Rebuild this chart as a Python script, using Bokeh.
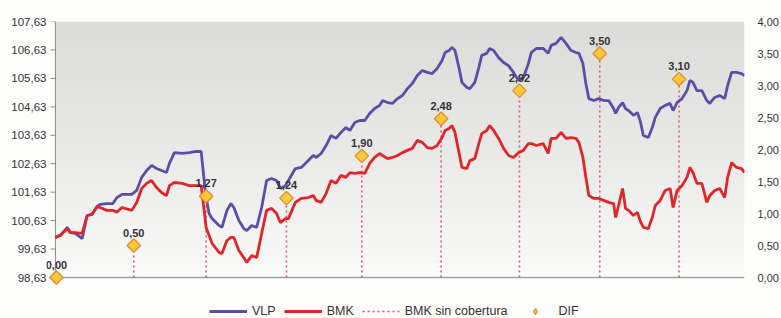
import numpy as np
from bokeh.plotting import figure
from bokeh.models import (Range1d, LinearAxis, FixedTicker, CustomJSTickFormatter,
                          Legend, LegendItem, ColumnDataSource)
from bokeh.core.properties import value
from bokeh.embed import file_html
from bokeh.resources import INLINE

# ---------------- data ----------------
t = [0, 5, 12, 15, 20, 27, 32, 37, 42, 45,
     52, 58, 62, 67, 77, 82, 87, 92, 97, 102,
     107, 112, 115, 120, 128, 135, 142, 147, 150, 152,
     155, 158, 165, 168, 173, 177, 180, 185, 190, 193,
     198, 203, 208, 213, 218, 223, 227, 232, 235, 242,
     248, 255, 260, 263, 268, 273, 278, 283, 288, 293,
     297, 302, 307, 312, 317, 322, 327, 330, 335, 340,
     345, 350, 355, 360, 365, 370, 375, 380, 385, 390,
     393, 397, 400, 403, 407, 410, 415, 418, 423, 427,
     430, 435, 438, 442, 447, 452, 457, 462, 467, 472,
     477, 480, 485, 492, 497, 500, 505, 510, 515, 520,
     525, 528, 532, 535, 538, 543, 548, 553, 558, 563,
     565, 568, 572, 575, 578, 583, 587, 590, 593, 598,
     602, 605, 610, 615, 620, 623, 627, 632, 637, 640,
     643, 647, 652, 657, 660, 665, 670, 675, 678, 682,
     687, 692, 695]

vlp = [100.04, 100.11, 100.39, 100.21, 100.18, 100.00, 100.81, 100.85, 101.13, 101.20,
       101.23, 101.23, 101.44, 101.55, 101.55, 101.69, 102.15, 102.39, 102.57, 102.46,
       102.39, 102.32, 102.64, 103.02, 102.99, 103.02, 103.06, 103.06, 102.04, 101.44,
       100.88, 100.70, 100.46, 100.39, 100.99, 101.23, 101.09, 100.63, 100.35, 100.28,
       100.46, 100.39, 101.09, 102.04, 102.11, 102.04, 101.76, 101.86, 102.04, 102.46,
       102.50, 102.74, 102.92, 102.85, 102.99, 103.27, 103.62, 103.52, 103.73, 103.90,
       103.80, 104.08, 104.15, 104.15, 104.40, 104.57, 104.68, 104.85, 104.78, 104.75,
       104.92, 105.03, 105.27, 105.45, 105.73, 105.91, 105.84, 105.80, 105.98, 106.26,
       106.54, 106.61, 106.72, 106.61, 106.01, 105.49, 105.31, 105.27, 105.49, 106.01,
       106.44, 106.51, 106.68, 106.61, 106.36, 106.19, 106.08, 105.84, 105.56, 105.66,
       106.15, 106.54, 106.68, 106.68, 106.51, 106.79, 106.86, 107.07, 106.86, 106.61,
       106.54, 106.51, 106.15, 105.45, 104.92, 104.85, 104.92, 104.85, 104.85, 104.57,
       104.40, 104.61, 104.78, 104.57, 104.50, 104.33, 104.43, 104.11, 103.62, 103.55,
       103.90, 104.26, 104.57, 104.68, 104.75, 104.50, 104.78, 104.92, 105.20, 105.56,
       105.49, 105.20, 105.20, 104.85, 104.75, 104.96, 105.03, 104.92, 105.38, 105.84,
       105.84, 105.80, 105.73]

bmk = [100.04, 100.11, 100.35, 100.21, 100.21, 100.18, 100.81, 100.85, 101.13, 101.09,
       100.99, 100.99, 100.92, 101.09, 100.99, 101.27, 101.76, 101.94, 102.04, 101.79,
       101.62, 101.51, 101.86, 101.97, 101.94, 101.86, 101.86, 101.86, 100.99, 100.39,
       100.11, 99.83, 99.51, 99.47, 99.93, 100.04, 100.04, 99.58, 99.33, 99.16,
       99.40, 99.33, 100.18, 100.99, 101.06, 100.88, 100.56, 100.70, 100.70, 101.27,
       101.41, 101.44, 101.51, 101.34, 101.27, 101.58, 102.04, 101.94, 102.22, 102.15,
       102.32, 102.29, 102.32, 102.29, 102.64, 102.85, 102.99, 102.92, 102.81, 102.85,
       102.92, 103.02, 103.10, 103.17, 103.45, 103.38, 103.20, 103.17, 103.27, 103.55,
       103.80, 103.87, 103.97, 103.73, 103.02, 102.50, 102.46, 102.74, 102.81, 103.34,
       103.69, 103.80, 103.97, 103.80, 103.52, 103.17, 102.92, 102.85, 103.02, 103.10,
       103.34, 103.34, 103.27, 103.34, 102.99, 103.52, 103.52, 103.73, 103.52, 103.55,
       103.52, 103.38, 102.85, 102.15, 101.51, 101.41, 101.41, 101.34, 101.27, 101.23,
       100.74, 101.16, 101.76, 101.06, 100.99, 100.81, 100.92, 100.60, 100.39, 100.35,
       100.74, 101.16, 101.34, 101.69, 101.76, 101.09, 101.69, 101.86, 102.15, 102.50,
       102.32, 101.94, 101.94, 101.27, 101.51, 101.69, 101.76, 101.44, 102.15, 102.67,
       102.50, 102.46, 102.32]

dif_t = [1, 79, 152, 233, 309, 389, 468, 549, 629]
dif = [0.00, 0.50, 1.27, 1.24, 1.90, 2.48, 2.92, 3.50, 3.10]
dif_labels = ["0,00", "0,50", "1,27", "1,24", "1,90", "2,48", "2,92", "3,50", "3,10"]

left_ticks = [98.63, 99.63, 100.63, 101.63, 102.63, 103.63, 104.63, 105.63, 106.63, 107.63]
right_ticks = [0.0, 0.5, 1.0, 1.5, 2.0, 2.5, 3.0, 3.5, 4.0]

# ---------------- style ----------------
FONT = "Liberation Sans"
PURPLE = "#5a4fa6"
RED = "#e0262b"
PINK = "#dc5a6e"
WHITE = "#fdfdfc"
GOLD = "#f9cb3a"
ORANGE = "#e58a2a"

T0, T1 = 0, 695            # span of the time axis
L0, L1 = 98.63, 107.63     # left (index) scale
R0, R1 = 0.0, 4.0          # right (DIF) scale
PAD_X = 9                  # room left of the axis so edge marks are not clipped
EXTRA = 41.0 / 256.0       # frame extension below the axis (room for the legend)

p = figure(width=781, height=318, output_backend="svg", toolbar_location=None,
           x_range=Range1d(T0 - PAD_X, T1),
           y_range=Range1d(L0 - (L1 - L0) * EXTRA, L1),
           min_border_left=46, min_border_right=31, min_border_top=21, min_border_bottom=0)
p.extra_y_ranges = {"dif": Range1d(R0 - (R1 - R0) * EXTRA, R1)}
p.outline_line_color = None
p.grid.visible = False
p.xaxis.visible = False
p.background_fill_color = WHITE
p.border_fill_color = WHITE

# vertical gradient background of the plotting area
n = 128
img = np.empty((n, 1), dtype=np.uint32)
view = img.view(dtype=np.uint8).reshape((n, 1, 4))
for i in range(n):
    f = (i / (n - 1)) ** 0.8   # 0 bottom -> 1 top
    c = int(round(252 - (252 - 219) * f))
    view[i, 0, 0] = c
    view[i, 0, 1] = c
    view[i, 0, 2] = max(c - 2, 0)
    view[i, 0, 3] = 255
p.image_rgba(image=[img], x=T0, y=L0, dw=T1 - T0, dh=L1 - L0, level="image")

# axis lines and tick marks
p.segment(x0=[T0], y0=[L0], x1=[T0], y1=[L1], line_color="#8c8c8c", line_width=1)
p.segment(x0=[T0 - 5] * len(left_ticks), y0=left_ticks, x1=[T0] * len(left_ticks),
          y1=left_ticks, line_color="#8c8c8c", line_width=1)
p.segment(x0=[T0], y0=[L0], x1=[T1], y1=[L0], line_color="#a2a2a2", line_width=1.6)

# dotted "BMK sin cobertura" drop lines
src_dif = ColumnDataSource(dict(t=dif_t, dif=dif, zero=[R0] * len(dif), lab=dif_labels))
r_dot = p.segment(x0="t", y0="zero", x1="t", y1="dif", source=src_dif, y_range_name="dif",
                  line_color=PINK, line_width=1.6, line_dash="2 3")

r_vlp = p.line(t, vlp, line_color=PURPLE, line_width=2.8)
r_bmk = p.line(t, bmk, line_color=RED, line_width=2.8)

# legend swatch for DIF (plain diamond), hidden under the first DIF marker
r_dif_leg = p.scatter(x=dif_t[:1], y=dif[:1], y_range_name="dif", marker="diamond", size=12,
                      fill_color=GOLD, line_color=ORANGE, line_width=1.3)
p.scatter(x="t", y="dif", source=src_dif, y_range_name="dif", marker="square",
          angle=np.pi / 4, size=9.5, fill_color=GOLD, line_color=ORANGE, line_width=1.3)
p.text(x="t", y="dif", text="lab", source=src_dif, y_range_name="dif",
       text_font=value(FONT), text_font_size="11px", text_font_style="bold",
       text_color="#333333", text_align="center", text_baseline="bottom", y_offset=-9)

# axes (labels only; line and ticks drawn above)
fmt = "return tick.toFixed(2).replace('.', ',');"
ax = p.yaxis[0]
ax.ticker = FixedTicker(ticks=left_ticks)
ax.formatter = CustomJSTickFormatter(code=fmt)
ax.axis_line_color = None
ax.major_tick_line_color = None
ax.major_tick_out = 0
ax.major_tick_in = 0
ax.minor_tick_line_color = None
ax.minor_tick_out = 0
ax.major_label_text_font = FONT
ax.major_label_text_font_size = "11.5px"
ax.major_label_text_color = "#333333"
ax.major_label_text_align = "right"
ax.major_label_standoff = 0

rax = LinearAxis(y_range_name="dif", ticker=FixedTicker(ticks=right_ticks),
                 formatter=CustomJSTickFormatter(code=fmt))
rax.axis_line_color = None
rax.major_tick_line_color = None
rax.minor_tick_line_color = None
rax.major_label_text_font = FONT
rax.major_label_text_font_size = "11px"
rax.major_label_text_color = "#333333"
rax.major_label_standoff = 7
p.add_layout(rax, "right")

legend = Legend(items=[
    LegendItem(label="VLP", renderers=[r_vlp]),
    LegendItem(label="BMK", renderers=[r_bmk]),
    LegendItem(label="BMK sin cobertura", renderers=[r_dot]),
    LegendItem(label="DIF", renderers=[r_dif_leg]),
], orientation="horizontal", location=(163, 0))
legend.label_text_font = FONT
legend.label_text_font_size = "12.5px"
legend.label_text_color = "#333333"
legend.glyph_width = 38
legend.label_standoff = 5
legend.spacing = 8
legend.border_line_color = None
legend.background_fill_alpha = 0
legend.padding = 1
legend.margin = 0
legend.label_height = 14
legend.glyph_height = 14
p.add_layout(legend, "center")

open("out.html", "w").write(file_html(p, INLINE))
